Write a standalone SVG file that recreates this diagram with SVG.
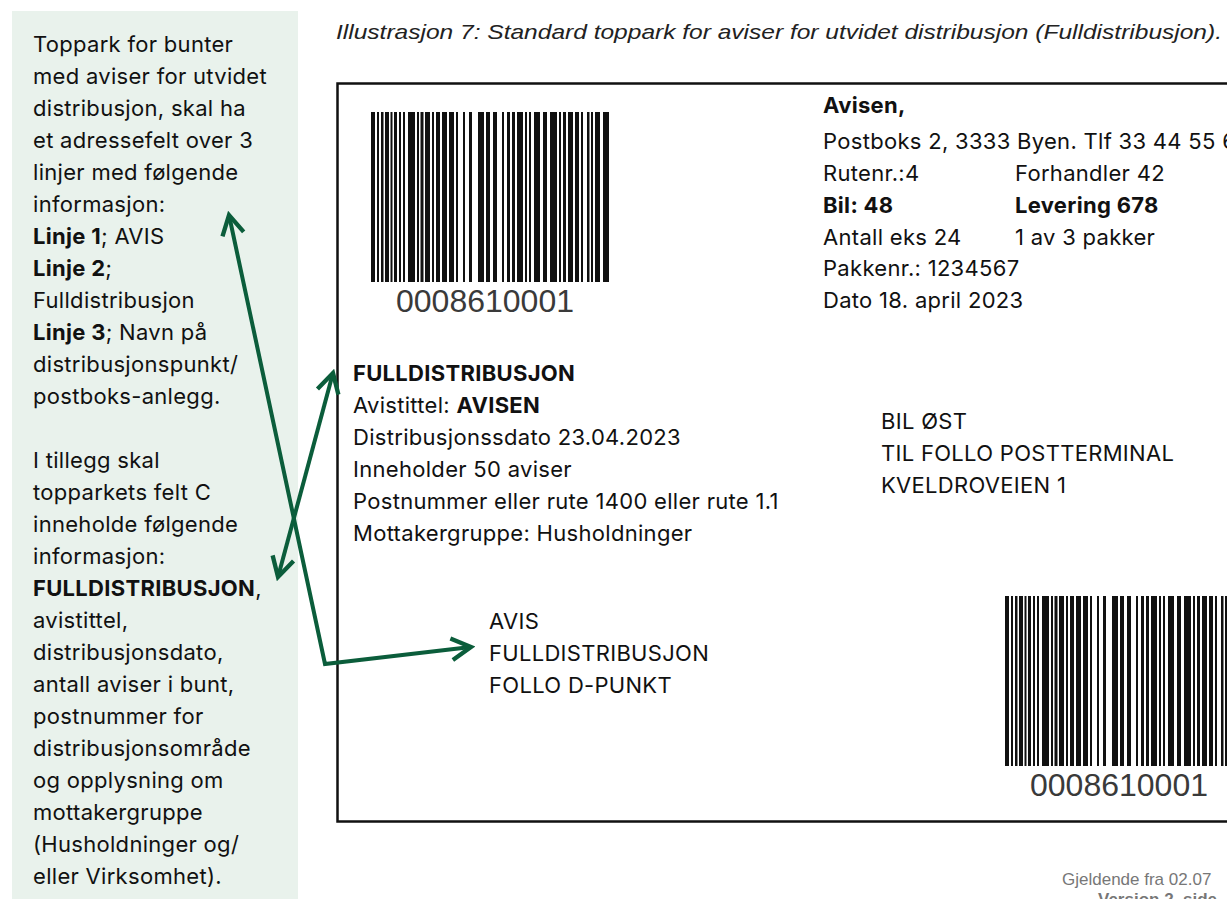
<svg xmlns="http://www.w3.org/2000/svg" xmlns:xlink="http://www.w3.org/1999/xlink" width="1227" height="899" viewBox="0 0 1227 899">
<style>
.t{font-family:Inter,"Liberation Sans",sans-serif;font-size:22px;letter-spacing:0.3px;fill:#111}
.b{font-weight:bold}
.bc{font-family:"Liberation Sans",Arial,sans-serif;font-size:32px;fill:#3a3a3a}
.cap{font-family:"Liberation Sans",Arial,sans-serif;font-style:italic;font-size:21px;fill:#222}
.foot{font-family:"Liberation Sans",Arial,sans-serif;font-size:17px;fill:#777}
.conn{fill:none;stroke:#0b5d3b;stroke-width:4;stroke-linejoin:miter}
</style>
<defs>
<marker id="ah" viewBox="0 0 12 12" refX="10" refY="6" markerWidth="6.5" markerHeight="6.5" markerUnits="strokeWidth" orient="auto-start-reverse">
<path d="M1,1 L10,6 L1,11" fill="none" stroke="#0b5d3b" stroke-width="2"/>
</marker>
<g id="barcode" fill="#111">
<rect x="371" y="112" width="4" height="170"/>
<rect x="377" y="112" width="2" height="170"/>
<rect x="381" y="112" width="2.5" height="170"/>
<rect x="385" y="112" width="4" height="170"/>
<rect x="390.5" y="112" width="2" height="170"/>
<rect x="394" y="112" width="3" height="170"/>
<rect x="399" y="112" width="2" height="170"/>
<rect x="403" y="112" width="2" height="170"/>
<rect x="408" y="112" width="7" height="170"/>
<rect x="417" y="112" width="2" height="170"/>
<rect x="420.5" y="112" width="3" height="170"/>
<rect x="425" y="112" width="5" height="170"/>
<rect x="432" y="112" width="2" height="170"/>
<rect x="436" y="112" width="4" height="170"/>
<rect x="442" y="112" width="5" height="170"/>
<rect x="449" y="112" width="5" height="170"/>
<rect x="456" y="112" width="2" height="170"/>
<rect x="463" y="112" width="2" height="170"/>
<rect x="469" y="112" width="3" height="170"/>
<rect x="478" y="112" width="6" height="170"/>
<rect x="486" y="112" width="4" height="170"/>
<rect x="493" y="112" width="4" height="170"/>
<rect x="502" y="112" width="2" height="170"/>
<rect x="507" y="112" width="3" height="170"/>
<rect x="512" y="112" width="3" height="170"/>
<rect x="517" y="112" width="6" height="170"/>
<rect x="525" y="112" width="2" height="170"/>
<rect x="529" y="112" width="2" height="170"/>
<rect x="534" y="112" width="6" height="170"/>
<rect x="543" y="112" width="4" height="170"/>
<rect x="550" y="112" width="7" height="170"/>
<rect x="559" y="112" width="2" height="170"/>
<rect x="563" y="112" width="3" height="170"/>
<rect x="568" y="112" width="5" height="170"/>
<rect x="575" y="112" width="4" height="170"/>
<rect x="581" y="112" width="2" height="170"/>
<rect x="587" y="112" width="2.5" height="170"/>
<rect x="591" y="112" width="2" height="170"/>
<rect x="595" y="112" width="5" height="170"/>
<rect x="603" y="112" width="6" height="170"/>
<text class="bc" x="485" y="312" text-anchor="middle">0008610001</text>
</g>
</defs>
<rect width="1227" height="899" fill="#ffffff"/>
<g id="sidebar">
<rect x="12" y="11" width="286" height="888" fill="#e9f2ec"/>
<text class="t">
<tspan x="33" y="52">Toppark for bunter</tspan>
<tspan x="33" y="84">med aviser for utvidet</tspan>
<tspan x="33" y="116">distribusjon, skal ha</tspan>
<tspan x="33" y="148">et adressefelt over 3</tspan>
<tspan x="33" y="180">linjer med følgende</tspan>
<tspan x="33" y="212">informasjon:</tspan>
<tspan x="33" y="244"><tspan class="b">Linje 1</tspan>; AVIS</tspan>
<tspan x="33" y="276"><tspan class="b">Linje 2</tspan>;</tspan>
<tspan x="33" y="308">Fulldistribusjon</tspan>
<tspan x="33" y="340"><tspan class="b">Linje 3</tspan>; Navn på</tspan>
<tspan x="33" y="372">distribusjonspunkt/</tspan>
<tspan x="33" y="404">postboks-anlegg.</tspan>
<tspan x="33" y="468">I tillegg skal</tspan>
<tspan x="33" y="500">topparkets felt C</tspan>
<tspan x="33" y="532">inneholde følgende</tspan>
<tspan x="33" y="564">informasjon:</tspan>
<tspan x="33" y="596"><tspan class="b">FULLDISTRIBUSJON</tspan>,</tspan>
<tspan x="33" y="628">avistittel,</tspan>
<tspan x="33" y="660">distribusjonsdato,</tspan>
<tspan x="33" y="692">antall aviser i bunt,</tspan>
<tspan x="33" y="724">postnummer for</tspan>
<tspan x="33" y="756">distribusjonsområde</tspan>
<tspan x="33" y="788">og opplysning om</tspan>
<tspan x="33" y="820">mottakergruppe</tspan>
<tspan x="33" y="852">(Husholdninger og/</tspan>
<tspan x="33" y="884">eller Virksomhet).</tspan>
</text>
</g>
<g id="caption">
<text class="cap" x="336" y="39" textLength="886" lengthAdjust="spacingAndGlyphs">Illustrasjon 7: Standard toppark for aviser for utvidet distribusjon (Fulldistribusjon).</text>
</g>
<g id="label">
<rect x="337.5" y="83.5" width="900" height="738" fill="none" stroke="#111" stroke-width="2.5"/>
<g id="barcode-top"><use xlink:href="#barcode" href="#barcode"/></g>
<g id="barcode-bottom"><use xlink:href="#barcode" href="#barcode" transform="translate(634,484)"/></g>
<g id="sender">
<text class="t">
<tspan x="823" y="113" class="b">Avisen,</tspan>
<tspan x="823" y="149">Postboks 2, 3333 Byen. Tlf 33 44 55 6</tspan>
<tspan x="823" y="181">Rutenr.:4</tspan>
<tspan x="823" y="213" class="b">Bil: 48</tspan>
<tspan x="823" y="245">Antall eks 24</tspan>
<tspan x="823" y="276">Pakkenr.: 1234567</tspan>
<tspan x="823" y="308">Dato 18. april 2023</tspan>
<tspan x="1015" y="181">Forhandler 42</tspan>
<tspan x="1015" y="213" class="b">Levering 678</tspan>
<tspan x="1015" y="245">1 av 3 pakker</tspan>
</text>
</g>
<g id="field-c">
<text class="t">
<tspan x="353" y="381" class="b">FULLDISTRIBUSJON</tspan>
<tspan x="353" y="413">Avistittel: <tspan class="b">AVISEN</tspan></tspan>
<tspan x="353" y="445">Distribusjonssdato 23.04.2023</tspan>
<tspan x="353" y="477">Inneholder 50 aviser</tspan>
<tspan x="353" y="509">Postnummer eller rute 1400 eller rute 1.1</tspan>
<tspan x="353" y="541">Mottakergruppe: Husholdninger</tspan>
</text>
</g>
<g id="destination">
<text class="t">
<tspan x="881" y="429">BIL ØST</tspan>
<tspan x="881" y="461">TIL FOLLO POSTTERMINAL</tspan>
<tspan x="881" y="493">KVELDROVEIEN 1</tspan>
</text>
</g>
<g id="address">
<text class="t">
<tspan x="489" y="629">AVIS</tspan>
<tspan x="489" y="661">FULLDISTRIBUSJON</tspan>
<tspan x="489" y="693">FOLLO D-PUNKT</tspan>
</text>
</g>
</g>
<g id="connectors">
<path class="conn" d="M229,215 L325,664 L471,647" marker-start="url(#ah)" marker-end="url(#ah)"/>
<path class="conn" d="M333,373 L278,577" marker-start="url(#ah)" marker-end="url(#ah)"/>
</g>
<g id="footer">
<text class="foot" x="1062" y="885">Gjeldende fra 02.07</text>
<text class="foot" x="1098" y="905" font-weight="bold" fill="#111">Version 2, side</text>
</g>
</svg>
